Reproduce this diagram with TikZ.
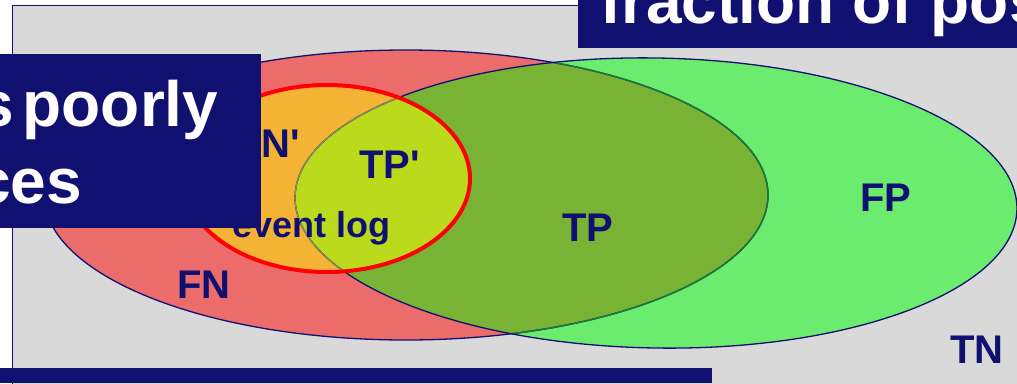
\documentclass[tikz,border=0pt]{standalone}
\usepackage{fontspec}
\setmainfont{Liberation Sans}[Ligatures=TeXOff]
\definecolor{bggray}{RGB}{217,217,217}
\definecolor{navy}{RGB}{16,16,112}
\definecolor{redfill}{RGB}{236,107,107}
\definecolor{greenfill}{RGB}{108,236,110}
\definecolor{olivefill}{RGB}{120,179,54}
\definecolor{orangefill}{RGB}{245,179,53}
\definecolor{limefill}{RGB}{188,218,28}
\definecolor{dkgreenline}{RGB}{30,120,60}
\definecolor{grayolive}{RGB}{140,150,80}
\newcommand\RedEll{(406,195) ellipse [x radius=362pt, y radius=145pt]}
\newcommand\GreenEll{(656,203) ellipse [x radius=361pt, y radius=145pt]}
\newcommand\SmallEll{(327,178.5) ellipse [x radius=143pt, y radius=93.5pt]}
\tikzset{
  grot/.style={rotate around={-1:(656,203)}},
  lbl/.style={text=navy, font=\fontsize{40}{48}\selectfont\bfseries, inner sep=0pt, anchor=base},
  boxtext/.style={text=white, font=\fontsize{64}{77}\selectfont\bfseries, inner sep=0pt, anchor=base west},
  navybox/.style={fill=navy}
}
\begin{document}
\begin{tikzpicture}[x=1pt,y=-1pt]
\useasboundingbox (0,0) rectangle (1017,383);
\clip (0,0) rectangle (1017,383);
% background panel
\fill[bggray, draw=navy, line width=1.5pt] (12.5,5.5) rectangle (1040,400);
% fills
\fill[redfill] \RedEll;
\fill[greenfill, grot] \GreenEll;
\begin{scope}
  \clip \RedEll;
  \fill[olivefill, grot] \GreenEll;
\end{scope}
\fill[orangefill] \SmallEll;
\begin{scope}
  \clip \SmallEll;
  \fill[limefill, grot] \GreenEll;
\end{scope}
% outlines
\draw[navy, line width=1.3pt] \RedEll;
\begin{scope}
  \clip[grot] \GreenEll;
  \draw[dkgreenline, line width=1.5pt] \RedEll;
\end{scope}
\draw[navy, line width=1.3pt, grot] \GreenEll;
\begin{scope}
  \clip \SmallEll;
  \draw[grayolive, line width=1.2pt, grot] \GreenEll;
\end{scope}
\draw[red, line width=4pt] \SmallEll;
% labels
\node[lbl, anchor=base east] (fnp) at (300,157) {FN'};
\node[lbl, anchor=base west] (tpp) at (359,178) {TP'};
\node[lbl, anchor=base west, font=\fontsize{36}{43}\selectfont\bfseries] (log) at (232,237) {event log};
\node[lbl, anchor=base west] (fn) at (177,298) {FN};
\node[lbl] (tp) at (588,241) {TP};
\node[lbl] (fp) at (886,211) {FP};
\node[lbl] (tn) at (977,363) {TN};
% overlay boxes
\fill[navybox] (0,54) rectangle (261,228);
\fill[navybox] (578,0) rectangle (1017,48);
\fill[navybox] (0,368) rectangle (712,383);
\node[boxtext] (l1) at (-22,126) {\spaceskip=9pt s poorly};
\node[boxtext] (l2) at (-25,203) {ces};
\node[boxtext] (t1) at (600,23) {fraction of pos};
\end{tikzpicture}
\end{document}
